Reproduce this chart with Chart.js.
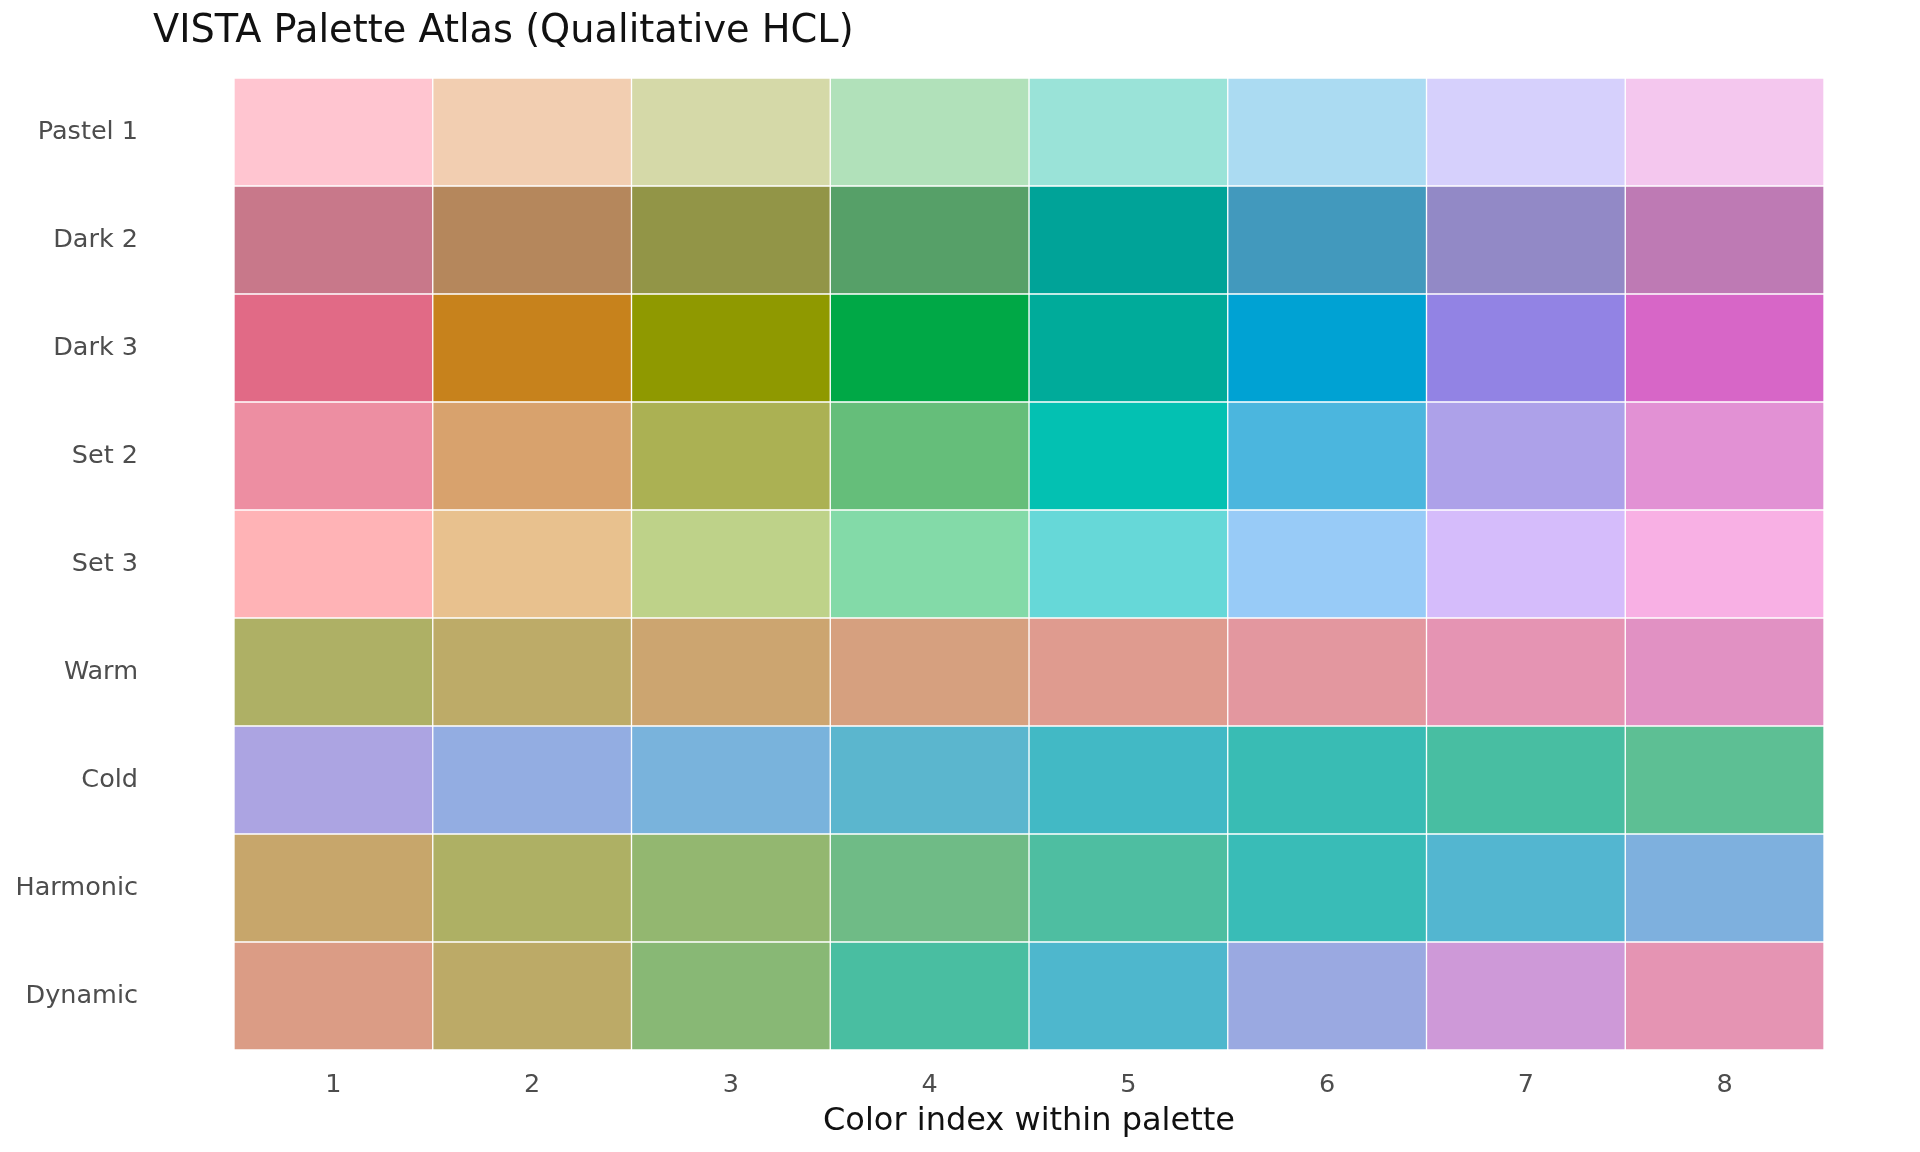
<!DOCTYPE html>
<html>
<head>
<meta charset="utf-8">
<title>VISTA Palette Atlas</title>
<script src="https://cdn.jsdelivr.net/npm/chart.js@4.4.1/dist/chart.umd.min.js"></script>
<style>
    body { margin: 0; background: #ffffff; }
    #wrap { position: relative; width: 1920px; height: 1152px; }
    #titulo {
        position: absolute; left: 153px; top: 10px; margin: 0;
        font: 38.3px/38px 'DejaVu Sans', sans-serif; color: #111111; font-weight: normal;
    }
    canvas { display: block; }
</style>
</head>
<body>
<div id="wrap">
    <h1 id="titulo">VISTA Palette Atlas (Qualitative HCL)</h1>
    <canvas id="atlas-grafica" width="1920" height="1152"></canvas>
</div>
<script>
const paletas = ['Pastel 1', 'Dark 2', 'Dark 3', 'Set 2', 'Set 3', 'Warm', 'Cold', 'Harmonic', 'Dynamic'];
const indices = ['1', '2', '3', '4', '5', '6', '7', '8'];

const pastel1 = ['#FFC5D0', '#F2CEB1', '#D5D9A8', '#B1E1BA', '#9AE3D8', '#ABDBF2', '#D6D0FC', '#F4C7EE'];
const dark2 = ['#C8788A', '#B5875C', '#929547', '#56A068', '#00A398', '#4299BD', '#9289C6', '#BE7AB4'];
const dark3 = ['#E16A86', '#C7821C', '#8F9900', '#00A846', '#00AB9A', '#00A2D3', '#9283E4', '#D766C7'];
const set2 = ['#ED8EA2', '#D8A26D', '#ABB153', '#65BE7A', '#03C1B2', '#4BB6DE', '#ADA1E9', '#E291D4'];
const set3 = ['#FFB3B6', '#E8C18E', '#BED289', '#83DAA8', '#66D8D8', '#98CBF7', '#D5BCFB', '#F8B0E4'];
const warm = ['#AEB065', '#BDAB68', '#CCA570', '#D6A07F', '#DF9B8F', '#E3979F', '#E594B3', '#E191C3'];
const cold = ['#ACA4E2', '#93ADE2', '#79B3DC', '#5BB6CE', '#42B9C5', '#39BCB4', '#48BEA2', '#5DBF94'];
const harmonic = ['#C7A66B', '#AEB064', '#93B770', '#6FBB86', '#4EBEA1', '#39BCB7', '#53B6D0', '#7EB0DE'];
const dynamic = ['#DB9C85', '#BCAA67', '#88B875', '#49BEA1', '#4EB7CD', '#9AA9E1', '#CE99D8', '#E594B3'];

const filas = [pastel1, dark2, dark3, set2, set3, warm, cold, harmonic, dynamic];

(() => {
    const ctx = document.getElementById('atlas-grafica').getContext('2d');

    const datasets = indices.map((etiqueta, j) => ({
        label: etiqueta,
        data: paletas.map(() => 1),
        backgroundColor: filas.map(fila => fila[j]),
        borderColor: '#ffffff',
        borderWidth: 1,
        borderSkipped: false,
        barPercentage: 1,
        categoryPercentage: 1
    }));

    new Chart(ctx, {
        type: 'bar',
        data: {
            labels: paletas,
            datasets: datasets
        },
        options: {
            indexAxis: 'y',
            responsive: false,
            animation: false,
            layout: {
                padding: { top: 78, right: 96, bottom: 9, left: 17 }
            },
            scales: {
                x: {
                    type: 'linear',
                    stacked: true,
                    min: 0,
                    max: indices.length,
                    grid: { display: false, drawTicks: false },
                    border: { display: false },
                    afterBuildTicks: (scale) => {
                        scale.ticks = indices.map((_, i) => ({ value: i + 0.5 }));
                    },
                    ticks: {
                        padding: 20,
                        color: '#4d4d4d',
                        font: { family: 'DejaVu Sans', size: 25.5 },
                        callback: (value) => indices[Math.round(value - 0.5)]
                    },
                    title: {
                        display: true,
                        text: 'Color index within palette',
                        color: '#111111',
                        font: { family: 'DejaVu Sans', size: 32 },
                        padding: { top: -18, bottom: 2 }
                    }
                },
                y: {
                    stacked: true,
                    grid: { display: false, drawTicks: false },
                    border: { display: false },
                    afterFit: (scale) => {
                        scale.width = 217;
                        scale.paddingTop = 0;
                        scale.paddingBottom = 0;
                    },
                    ticks: {
                        padding: 96,
                        color: '#4d4d4d',
                        font: { family: 'DejaVu Sans', size: 25.5 }
                    }
                }
            },
            plugins: {
                legend: { display: false },
                tooltip: { enabled: false }
            }
        }
    });
})()
</script>
</body>
</html>
